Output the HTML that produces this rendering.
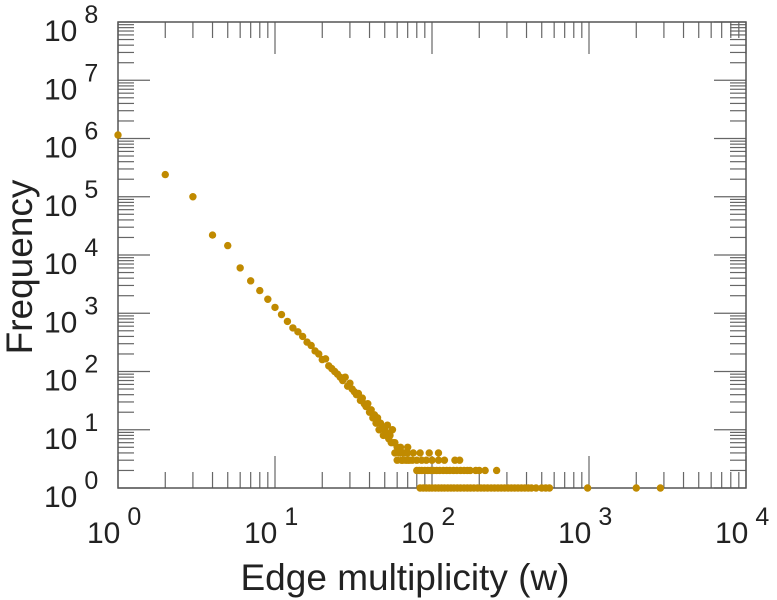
<!DOCTYPE html>
<html><head><meta charset="utf-8"><style>
html,body{margin:0;padding:0;background:#fff;width:777px;height:600px;overflow:hidden}
text{font-family:"Liberation Sans",Arial,sans-serif;fill:#222}
</style></head><body>
<svg id="chart" width="777" height="600" viewBox="0 0 777 600" xmlns="http://www.w3.org/2000/svg">
<g id="ticks"></g>
<rect x="118" y="22" width="628" height="466" fill="none" stroke="#555" stroke-width="1.5"/>
<g id="labels"></g>
<g id="points"></g>
<text x="405" y="590" font-size="37" text-anchor="middle">Edge multiplicity (w)</text>
<text transform="translate(32,267) rotate(-90)" font-size="37" text-anchor="middle">Frequency</text>
</svg>
<script>
const xDecades = [0,1,2,3,4];
const yDecades = [0,1,2,3,4,5,6,7,8];
// main descending series
const mainW = [1,2,3,4,5,6,7,8,9,10,11,12,13,14,15,16,17,18,19,20,21,22,23,24,25,26,27,28,29,30,31,32,33,34,35,36,37,38,39,40,41,42,43,44,45,46,47,48,49,50,51,52,53,54,55,56,57,58,60,62,63,65,66,68,70,72];
const mainF = [1150000,240000,100000,22000,14500,6000,3600,2450,1740,1260,950,724,560,480,400,320,280,225,200,160,165,125,112,100,90,80,70,80,56,63,50,45,40,42,32,35,28,25,28,20,22,16,18,13,16,10,13,11,8,10,9,12,7,8,6,10,6,6,5,4,5,3,4,3,5,3];
// tail rows
const row4W = [58,62,66,70,76,84,96,110];
const row4F = [4,4,4,4,4,4,4,4];
const row3W = [60,64,70,75,80,86,92,100,110,120,140,150];
const row3F = [3,3,3,3,3,3,3,3,3,3,3,3];
const row2W = [80,83,86,90,94,98,102,107,112,118,124,130,137,144,152,160,168,175,190,200,218,258];
const row2F = [2,2,2,2,2,2,2,2,2,2,2,2,2,2,2,2,2,2,2,2,2,2];
const row1W = [84,88,92,96,100,105,110,115,120,126,132,138,145,152,160,168,176,185,195,205,215,226,238,250,263,276,290,305,320,336,353,371,390,410,430,460,500,530,560,980,2000,2850];
const row1F = [1,1,1,1,1,1,1,1,1,1,1,1,1,1,1,1,1,1,1,1,1,1,1,1,1,1,1,1,1,1,1,1,1,1,1,1,1,1,1,1,1,1];

const X0=118, X1=746, Y0=488, Y1=22;
const xs = v => X0 + (Math.log10(v)-0)/(4-0)*(X1-X0);
const ys = v => Y0 - (Math.log10(v)-0)/(8-0)*(Y0-Y1);
const NS="http://www.w3.org/2000/svg";
function mk(tag, attrs, parent){const e=document.createElementNS(NS,tag);for(const k in attrs)e.setAttribute(k,attrs[k]);parent.appendChild(e);return e;}
const tg=document.getElementById('ticks'), lg=document.getElementById('labels'), pg=document.getElementById('points');
for(const d of xDecades){
  for(let m=1;m<=9;m++){
    if(d===4 && m>1) break;
    const x=xs(m*Math.pow(10,d)); const L=(m===1)?32:16;
    const t1=mk('line',{x1:x,x2:x,y1:Y0,y2:Y0-L,stroke:'#666','stroke-width':1.2},tg);
    
    
    const t2=mk('line',{x1:x,x2:x,y1:Y1,y2:Y1+L,stroke:'#666','stroke-width':1.2},tg);
    
    
  }
  const t=mk('text',{x:xs(Math.pow(10,d))-31,y:543,'font-size':30},lg);
  
  
  t.innerHTML='10<tspan dx="7" dy="-18" font-size="25">'+d+'</tspan>';
}
for(const d of yDecades){
  for(let m=1;m<=9;m++){
    if(d===8 && m>1) break;
    const y=ys(m*Math.pow(10,d)); const L=(m===1)?32:16;
    const t1=mk('line',{x1:X0,x2:X0+L,y1:y,y2:y,stroke:'#666','stroke-width':1.2},tg);
    
    
    const t2=mk('line',{x1:X1,x2:X1-L,y1:y,y2:y,stroke:'#666','stroke-width':1.2},tg);
    
    
  }
  const t=mk('text',{x:44,y:ys(Math.pow(10,d))+19,'font-size':30},lg);
  
  
  t.innerHTML='10<tspan dx="7" dy="-18" font-size="25">'+d+'</tspan>';
}
function plot(W,F){
  for(let i=0;i<W.length;i++){
    const c=mk('circle',{cx:xs(W[i]),cy:ys(F[i]),r:3.7,fill:'#c08a00'},pg);
    
    
  }
}
plot(mainW,mainF);plot(row4W,row4F);plot(row3W,row3F);plot(row2W,row2F);plot(row1W,row1F);
</script>
</body></html>
